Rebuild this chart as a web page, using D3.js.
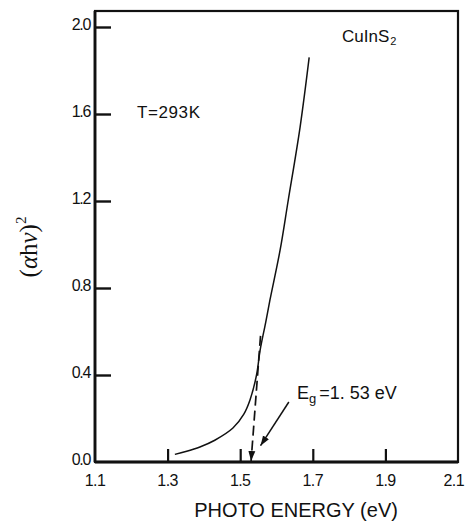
<!DOCTYPE html>
<html><head><meta charset="utf-8">
<script src="https://cdn.jsdelivr.net/npm/d3@7"></script>
<style>
html,body{margin:0;padding:0;background:#fff;}
svg{display:block;}
text{font-family:"Liberation Sans",Arial,sans-serif;fill:#111;}
</style></head>
<body>
<svg id="c" width="465" height="524"></svg>
<script>
// Data
const energy = [1.32, 1.35, 1.389, 1.43, 1.48, 1.51, 1.527, 1.545, 1.555, 1.57, 1.582, 1.61, 1.632, 1.665, 1.69];
const absorb = [0.035, 0.048, 0.069, 0.10, 0.156, 0.22, 0.285, 0.40, 0.515, 0.64, 0.745, 0.975, 1.2, 1.54, 1.86];
const dashE = [1.556, 1.53];
const dashV = [0.58, 0.0];
const arrowE = [1.634, 1.556];
const arrowV = [0.276, 0.075];
const xTicks = [1.1, 1.3, 1.5, 1.7, 1.9, 2.1];
const yTicks = [0.0, 0.4, 0.8, 1.2, 1.6, 2.0];
const xTickLabels = ["1.1", "1.3", "1.5", "1.7", "1.9", "2.1"];
const yTickLabels = ["0.0", "0.4", "0.8", "1.2", "1.6", "2.0"];

const svg = d3.select("#c");
const L = 95, R = 458, B = 462, T = 11;
const x = d3.scaleLinear().domain([1.1, 2.1]).range([L, R]);
const y = d3.scaleLinear().domain([0, 2.0]).range([B, 27]);

svg.append("defs").append("marker")
  .attr("id", "ah").attr("viewBox", "0 0 10 10").attr("refX", 10).attr("refY", 5)
  .attr("markerWidth", 10).attr("markerHeight", 10).attr("markerUnits", "userSpaceOnUse")
  .attr("orient", "auto")
  .append("path").attr("d", "M0,1.5 L10,5 L0,8.5 Z").attr("fill", "#111");

// frame
svg.append("rect").attr("x", L).attr("y", T).attr("width", R - L).attr("height", B - T)
  .attr("fill", "none").attr("stroke", "#111").attr("stroke-width", 2.2);
svg.append("line").attr("x1", L).attr("x2", L).attr("y1", T).attr("y2", B)
  .attr("stroke", "#111").attr("stroke-width", 2.8);
svg.append("line").attr("x1", L).attr("x2", R).attr("y1", B).attr("y2", B)
  .attr("stroke", "#111").attr("stroke-width", 2.8);

// axes with inward ticks
const xAxis = d3.axisTop(x).tickValues(xTicks).tickSize(13).tickFormat("");
const gx = svg.append("g").attr("transform", `translate(0,${B})`).call(xAxis);
gx.select(".domain").remove();
gx.selectAll(".tick line").attr("stroke", "#111").attr("stroke-width", 2.2);
gx.selectAll(".tick").filter(d => d === 1.1 || d === 2.1).remove();

const yAxis = d3.axisRight(y).tickValues(yTicks).tickSize(16).tickFormat("");
const gy = svg.append("g").attr("transform", `translate(${L},0)`).call(yAxis);
gy.select(".domain").remove();
gy.selectAll(".tick line").attr("stroke", "#111").attr("stroke-width", 2.4);
gy.selectAll(".tick").filter(d => d === 0).remove();

// tick labels
svg.selectAll(".xl").data(xTicks).enter().append("text")
  .attr("x", d => d === 2.1 ? 464 : x(d)).attr("y", 486)
  .attr("text-anchor", d => d === 2.1 ? "end" : "middle")
  .attr("font-size", 16).attr("letter-spacing", -0.6)
  .text((d, i) => xTickLabels[i]);
svg.selectAll(".yl").data(yTicks).enter().append("text")
  .attr("x", 90).attr("y", d => y(d) + 3).attr("text-anchor", "end")
  .attr("font-size", 16).attr("letter-spacing", -1.3)
  .text((d, i) => yTickLabels[i]);

// axis titles
svg.append("text").attr("x", 296).attr("y", 517).attr("text-anchor", "middle")
  .attr("font-size", 20).text("PHOTO ENERGY (eV)");
const yl = svg.append("text").attr("transform", "translate(37,247) rotate(-90)")
  .attr("text-anchor", "middle").attr("font-size", 25)
  .style("font-family", "'Liberation Serif','Times New Roman',serif");
yl.append("tspan").text("(");
yl.append("tspan").attr("font-style", "italic").text("α");
yl.append("tspan").text("h");
yl.append("tspan").attr("font-style", "italic").text("ν");
yl.append("tspan").text(")");
yl.append("tspan").attr("dy", -11).attr("font-size", 15).text("2");

// curve
const line = d3.line().x(d => x(d[0])).y(d => y(d[1])).curve(d3.curveCatmullRom);
svg.append("path").datum(energy.map((e, i) => [e, absorb[i]]))
  .attr("d", line).attr("fill", "none").attr("stroke", "#111").attr("stroke-width", 1.5);

// dashed extrapolation
svg.append("line")
  .attr("x1", x(dashE[0])).attr("y1", y(dashV[0]))
  .attr("x2", x(dashE[1])).attr("y2", y(dashV[1]) - 1)
  .attr("stroke", "#111").attr("stroke-width", 1.7).attr("stroke-dasharray", "10,5")
  .attr("marker-end", "url(#ah)");

// pointer arrow
svg.append("line")
  .attr("x1", x(arrowE[0])).attr("y1", y(arrowV[0]))
  .attr("x2", x(arrowE[1])).attr("y2", y(arrowV[1]))
  .attr("stroke", "#111").attr("stroke-width", 1.5).attr("marker-end", "url(#ah)");

// annotations
const eg = svg.append("text").attr("x", 297).attr("y", 399).attr("font-size", 18);
eg.append("tspan").text("E");
eg.append("tspan").attr("dy", 4).attr("font-size", 13).text("g");
eg.append("tspan").attr("dy", -4).attr("dx", 3).text("=1. 53 eV");

svg.append("text").attr("x", 137).attr("y", 118).attr("font-size", 17)
  .attr("letter-spacing", 0.6).text("T=293K");

const cu = svg.append("text").attr("x", 342).attr("y", 42).attr("font-size", 17);
cu.append("tspan").text("CuInS");
cu.append("tspan").attr("dy", 3).attr("dx", 1).attr("font-size", 11).text("2");
</script>
</body></html>
